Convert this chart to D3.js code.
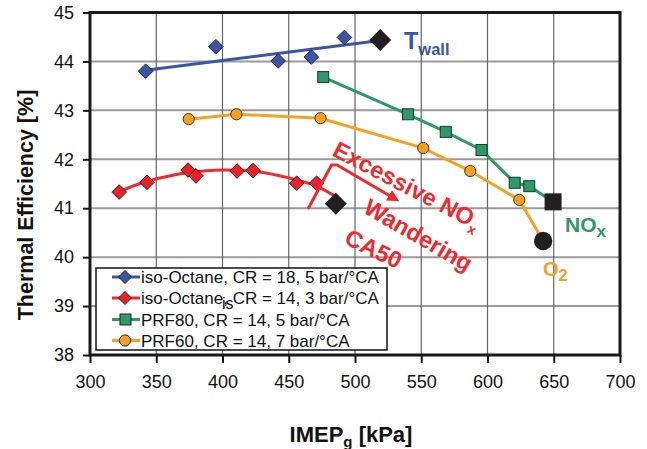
<!DOCTYPE html>
<html><head><meta charset="utf-8">
<script src="https://cdn.jsdelivr.net/npm/d3@7"></script>
<style>
body{margin:0;background:#fff}
svg{display:block}
text{font-family:"Liberation Sans",Arial,sans-serif}
</style>
</head><body>
<svg id="c" width="647" height="449"></svg>
<script>
// ---------- data ----------
const xTicks = [300, 350, 400, 450, 500, 550, 600, 650, 700];
const yTicks = [38, 39, 40, 41, 42, 43, 44, 45];
const seriesNames = [
  "iso-Octane, CR = 18, 5 bar/°CA",
  "iso-Octane, CR = 14, 3 bar/°CA",
  "PRF80, CR = 14, 5 bar/°CA",
  "PRF60, CR = 14, 7 bar/°CA"
];
// iso-Octane CR18
const blueX = [342, 395, 442, 467, 492];
const blueY = [43.80, 44.30, 44.01, 44.09, 44.49];
const blueTrendX = [342, 519];
const blueTrendY = [43.82, 44.43];
// iso-Octane CR14
const redX = [322, 343, 374, 380, 411, 423, 456, 471];
const redY = [41.33, 41.53, 41.78, 41.66, 41.76, 41.77, 41.51, 41.51];
const redTrendX = [322, 343, 360, 375, 400, 425, 450, 470, 486];
const redTrendY = [41.34, 41.55, 41.66, 41.73, 41.78, 41.75, 41.62, 41.46, 41.23];
// PRF80
const greenX = [476, 540, 568.5, 595.5, 620.5, 631.5];
const greenY = [43.68, 42.92, 42.56, 42.19, 41.52, 41.45];
// PRF60
const orangeX = [374.5, 410.5, 474, 551.5, 587, 624];
const orangeY = [42.82, 42.92, 42.84, 42.23, 41.76, 41.17];
// limit points (black markers), order: blue, red, green, orange
const limitX = [519, 485.5, 649.5, 642];
const limitY = [44.44, 41.09, 41.13, 40.33];

// ---------- styling ----------
const C = {blue:"#3B55A3", red:"#EE2A2F", green:"#2E9A68", orange:"#F7A023", black:"#231F20"};
const svg = d3.select("#c");
const L = 90, R = 620, T = 12.5, B = 355;
const x = d3.scaleLinear().domain([300, 700]).range([L, R]);
const y = d3.scaleLinear().domain([38, 45]).range([B, T]);

// grid
svg.append("g").selectAll("line").data(yTicks).join("line")
  .attr("x1", L).attr("x2", R).attr("y1", d => y(d)).attr("y2", d => y(d))
  .attr("stroke", "#9a9a9a").attr("stroke-width", 2);
svg.append("g").selectAll("line").data(xTicks).join("line")
  .attr("y1", T).attr("y2", B).attr("x1", d => x(d)).attr("x2", d => x(d))
  .attr("stroke", "#666").attr("stroke-width", 1.2);

// axes
const ax = svg.append("g").attr("transform", `translate(0,${B})`)
  .call(d3.axisBottom(x).tickValues(xTicks).tickFormat(d3.format("d")).tickSize(8).tickPadding(12));
const ay = svg.append("g").attr("transform", `translate(${L},0)`)
  .call(d3.axisLeft(y).tickValues(yTicks).tickFormat(d3.format("d")).tickSize(7).tickPadding(9));
[ax, ay].forEach(g => {
  g.select(".domain").remove();
  g.selectAll(".tick line").attr("stroke", "#111").attr("stroke-width", 2);
  g.selectAll(".tick text").attr("font-size", 18).attr("fill", "#111")
    .attr("font-family", "Liberation Sans, Arial, sans-serif");
});

// frame
svg.append("rect").attr("x", L).attr("y", T).attr("width", R - L).attr("height", B - T)
  .attr("fill", "none").attr("stroke", "#1a1a1a").attr("stroke-width", 3);

// axis titles
svg.append("text").attr("transform", `translate(33,205) rotate(-90)`)
  .attr("text-anchor", "middle").attr("font-weight", "bold").attr("font-size", 21.5)
  .attr("fill", "#111").text("Thermal Efficiency [%]");
const xt = svg.append("text").attr("x", 351).attr("y", 442).attr("text-anchor", "middle")
  .attr("font-weight", "bold").attr("font-size", 22).attr("fill", "#111");
xt.append("tspan").text("IMEP");
xt.append("tspan").attr("font-size", 15).attr("dy", 5).text("g");
xt.append("tspan").attr("dy", -5).text(" [kPa]");

// helpers
const diamond = r => `M0,${-r}L${r},0L0,${r}L${-r},0Z`;
const zip = (a, b) => a.map((v, i) => [v, b[i]]);
const line = d3.line().x(d => x(d[0])).y(d => y(d[1]));

// lines
svg.append("path").datum(zip(blueTrendX, blueTrendY)).attr("d", line)
  .attr("fill", "none").attr("stroke", C.blue).attr("stroke-width", 3);
svg.append("path").datum(zip(redTrendX, redTrendY)).attr("d", line.curve(d3.curveCatmullRom))
  .attr("fill", "none").attr("stroke", C.red).attr("stroke-width", 3);
line.curve(d3.curveLinear);
svg.append("path").datum(zip(greenX.concat([limitX[2]]), greenY.concat([limitY[2]]))).attr("d", line)
  .attr("fill", "none").attr("stroke", C.green).attr("stroke-width", 3);
svg.append("path").datum(zip(orangeX.concat([limitX[3]]), orangeY.concat([limitY[3]]))).attr("d", line)
  .attr("fill", "none").attr("stroke", C.orange).attr("stroke-width", 3);

// markers
svg.append("g").selectAll("path").data(zip(blueX, blueY)).join("path")
  .attr("d", diamond(7.3)).attr("transform", d => `translate(${x(d[0])},${y(d[1])})`)
  .attr("fill", C.blue).attr("stroke", "#1c2550").attr("stroke-width", 1);
svg.append("g").selectAll("path").data(zip(redX, redY)).join("path")
  .attr("d", diamond(7.3)).attr("transform", d => `translate(${x(d[0])},${y(d[1])})`)
  .attr("fill", "#E8222A").attr("stroke", "#4a1010").attr("stroke-width", 1);
svg.append("g").selectAll("rect").data(zip(greenX, greenY)).join("rect")
  .attr("x", d => x(d[0]) - 5.5).attr("y", d => y(d[1]) - 5.5).attr("width", 11).attr("height", 11)
  .attr("fill", C.green).attr("stroke", "#173a28").attr("stroke-width", 1);
svg.append("g").selectAll("circle").data(zip(orangeX, orangeY)).join("circle")
  .attr("cx", d => x(d[0])).attr("cy", d => y(d[1])).attr("r", 5.6)
  .attr("fill", C.orange).attr("stroke", "#4a3510").attr("stroke-width", 1);

// limit markers
svg.append("path").attr("d", diamond(11)).attr("transform", `translate(${x(limitX[0])},${y(limitY[0])})`).attr("fill", C.black);
svg.append("path").attr("d", diamond(11)).attr("transform", `translate(${x(limitX[1])},${y(limitY[1])})`).attr("fill", C.black);
svg.append("rect").attr("x", x(limitX[2]) - 8.5).attr("y", y(limitY[2]) - 8.5).attr("width", 17).attr("height", 17).attr("fill", C.black);
svg.append("circle").attr("cx", x(limitX[3])).attr("cy", y(limitY[3])).attr("r", 9.2).attr("fill", C.black);

// series labels
const tw = svg.append("text").attr("x", 404).attr("y", 48.5).attr("fill", C.blue).attr("font-weight", "bold");
tw.append("tspan").attr("font-size", 23.5).text("T");
tw.append("tspan").attr("font-size", 16.5).attr("dy", 6.5).text("wall");
const nx = svg.append("text").attr("x", 565).attr("y", 232).attr("fill", C.green).attr("font-weight", "bold");
nx.append("tspan").attr("font-size", 21).text("NO");
nx.append("tspan").attr("font-size", 17).attr("dy", 5).text("x");
const o2 = svg.append("text").attr("x", 543).attr("y", 275.5).attr("fill", C.orange).attr("font-weight", "bold");
o2.append("tspan").attr("font-size", 20).text("O");
o2.append("tspan").attr("font-size", 16.5).attr("dy", 5).text("2");

// annotation
const defs = svg.append("defs");
defs.append("marker").attr("id", "ah").attr("viewBox", "0 0 10 10").attr("refX", 2).attr("refY", 5)
  .attr("markerWidth", 4).attr("markerHeight", 4).attr("orient", "auto")
  .append("path").attr("d", "M0,0L10,5L0,10Z").attr("fill", C.red);
svg.append("path").attr("d", "M308,209L331.5,165L337,165L391,196.5")
  .attr("fill", "none").attr("stroke", C.red).attr("stroke-width", 3).attr("marker-end", "url(#ah)");
const a1 = svg.append("text").attr("transform", "translate(331,155) rotate(27.5)")
  .attr("fill", C.red).attr("font-weight", "bold").attr("font-size", 23.5);
a1.append("tspan").text("Excessive NO");
a1.append("tspan").attr("font-size", 14).attr("dy", 6).text("x");
svg.append("text").attr("transform", "translate(362,212) rotate(30)")
  .attr("fill", C.red).attr("font-weight", "bold").attr("font-size", 23.5).text("Wandering");
svg.append("text").attr("transform", "translate(343,243) rotate(26)")
  .attr("fill", C.red).attr("font-weight", "bold").attr("font-size", 23.5).text("CA50");

// legend
const lg = svg.append("g");
lg.append("rect").attr("x", 96).attr("y", 268).attr("width", 291).attr("height", 82)
  .attr("fill", "#fff").attr("stroke", "#111").attr("stroke-width", 1.5);
const rowsY = [277, 298, 319.5, 340.5];
const lcol = [C.blue, C.red, C.green, C.orange];
seriesNames.forEach((nm, i) => {
  const ry = rowsY[i];
  lg.append("line").attr("x1", 112).attr("x2", 140).attr("y1", ry).attr("y2", ry)
    .attr("stroke", lcol[i]).attr("stroke-width", 3);
  if (i < 2) lg.append("path").attr("d", diamond(6.5)).attr("transform", `translate(125,${ry})`)
    .attr("fill", i === 0 ? C.blue : "#E8222A").attr("stroke", "#222").attr("stroke-width", 1);
  else if (i === 2) lg.append("rect").attr("x", 120).attr("y", ry - 5.5).attr("width", 11).attr("height", 11)
    .attr("fill", C.green).attr("stroke", "#222").attr("stroke-width", 1);
  else lg.append("circle").attr("cx", 125).attr("cy", ry).attr("r", 5.6)
    .attr("fill", C.orange).attr("stroke", "#222").attr("stroke-width", 1);
  lg.append("text").attr("x", 141).attr("y", ry + 6).attr("font-size", 17).attr("fill", "#111").text(nm);
});
lg.append("text").attr("x", 222).attr("y", 309).attr("font-size", 16).attr("fill", "#111").text("is");
</script>
</body></html>
